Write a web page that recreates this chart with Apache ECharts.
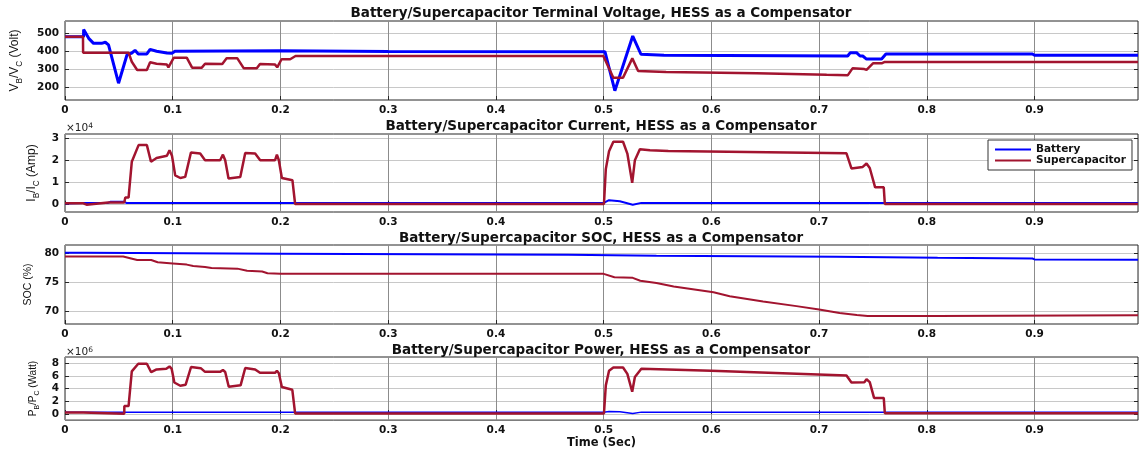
<!DOCTYPE html>
<html>
<head>
<meta charset="utf-8">
<script src="https://cdn.jsdelivr.net/npm/echarts@6/dist/echarts.min.js"></script>
<style>
  html, body { margin: 0; padding: 0; background: #fff; }
  #chart { width: 1140px; height: 450px; }
</style>
</head>
<body>
<div id="chart"></div>
<script>
// time axis
const timeMax = 0.996;

// battery / supercapacitor terminal voltage (V)
const vBatT = [0, 0.0172, 0.0173, 0.022, 0.0265, 0.034, 0.0374, 0.0404, 0.0497, 0.0575, 0.062, 0.065, 0.068, 0.076, 0.079, 0.085, 0.0946, 0.0993, 0.102, 0.2, 0.3, 0.5012, 0.5104, 0.527, 0.5346, 0.556, 0.7265, 0.729, 0.7347, 0.738, 0.7405, 0.744, 0.758, 0.762, 0.898, 0.9, 0.996];
const vBatV = [481, 481, 522, 472, 444, 444, 450, 435, 221, 379, 390, 405, 385, 385, 410, 400, 390, 388, 400, 403, 398, 397, 179, 485, 383, 378, 373, 392, 392, 373, 373, 356, 356, 384, 384, 377, 377];
const vCapT = [0, 0.0167, 0.0168, 0.059, 0.062, 0.067, 0.076, 0.079, 0.085, 0.0946, 0.096, 0.101, 0.113, 0.118, 0.127, 0.130, 0.146, 0.150, 0.160, 0.166, 0.178, 0.181, 0.195, 0.197, 0.201, 0.209, 0.214, 0.4997, 0.509, 0.518, 0.5266, 0.532, 0.558, 0.642, 0.707, 0.7267, 0.731, 0.742, 0.744, 0.750, 0.758, 0.761, 0.996];
const vCapV = [481, 481, 392, 392, 341, 295, 295, 338, 330, 325, 310, 364, 364, 308, 308, 330, 328, 360, 360, 304, 304, 328, 325, 310, 355, 355, 373, 373, 252, 252, 360, 289, 284, 277, 268, 266, 304, 300, 296, 332, 332, 340, 340];

// current (x10^4 A)
const iBatT = [0, 0.017, 0.04, 0.042, 0.055, 0.057, 0.5, 0.505, 0.515, 0.527, 0.535, 0.996];
const iBatV = [0.05, 0.07, 0.08, 0.13, 0.13, 0.08, 0.08, 0.2, 0.15, 0.0, 0.08, 0.08];
const iCapT = [0, 0.017, 0.02, 0.04, 0.055, 0.056, 0.059, 0.062, 0.0683, 0.076, 0.0798, 0.085, 0.0946, 0.097, 0.0993, 0.1023, 0.107, 0.1116, 0.1169, 0.1255, 0.130, 0.144, 0.1466, 0.1487, 0.1518, 0.1627, 0.1673, 0.1765, 0.1812, 0.195, 0.1967, 0.1985, 0.2013, 0.2111, 0.2136, 0.5003, 0.502, 0.505, 0.509, 0.518, 0.522, 0.5265, 0.529, 0.5336, 0.543, 0.56, 0.7254, 0.730, 0.7405, 0.744, 0.747, 0.752, 0.760, 0.761, 0.996];
const iCapV = [0.06, 0.06, 0.0, 0.1, 0.1, 0.32, 0.32, 1.93, 2.68, 2.68, 1.93, 2.1, 2.2, 2.45, 2.2, 1.32, 1.2, 1.25, 2.35, 2.3, 2.0, 2.0, 2.25, 2.0, 1.18, 1.25, 2.33, 2.3, 2.0, 2.0, 2.25, 2.0, 1.2, 1.1, 0.03, 0.03, 1.6, 2.4, 2.83, 2.83, 2.3, 0.98, 2.0, 2.49, 2.45, 2.42, 2.31, 1.63, 1.7, 1.85, 1.65, 0.78, 0.78, 0.03, 0.03];

// state of charge (%)
const socBatT = [0, 0.02, 0.021, 0.2, 0.201, 0.467, 0.468, 0.549, 0.55, 0.716, 0.717, 0.81, 0.811, 0.898, 0.9, 0.996];
const socBatV = [80.17, 80.17, 80.03, 80.0, 79.88, 79.83, 79.65, 79.63, 79.48, 79.45, 79.3, 79.28, 79.18, 79.15, 79.0, 78.95];
const socCapT = [0, 0.054, 0.067, 0.08, 0.086, 0.1, 0.113, 0.119, 0.13, 0.136, 0.16, 0.169, 0.183, 0.188, 0.2, 0.5, 0.51, 0.527, 0.534, 0.549, 0.565, 0.602, 0.617, 0.648, 0.679, 0.7, 0.719, 0.735, 0.745, 0.81, 0.996];
const socCapV = [79.5, 79.5, 78.9, 78.9, 78.5, 78.3, 78.1, 77.85, 77.7, 77.5, 77.4, 77.05, 76.9, 76.6, 76.5, 76.5, 75.9, 75.8, 75.3, 74.9, 74.3, 73.3, 72.6, 71.7, 70.9, 70.3, 69.7, 69.35, 69.2, 69.2, 69.3];

// power (x10^6 W)
const pBatT = [0, 0.017, 0.5, 0.505, 0.515, 0.527, 0.535, 0.996];
const pBatV = [0.3, 0.3, 0.3, 0.4, 0.35, 0.1, 0.3, 0.3];
const pCapT = [0, 0.017, 0.0171, 0.055, 0.0551, 0.059, 0.062, 0.068, 0.076, 0.08, 0.085, 0.094, 0.097, 0.099, 0.1015, 0.107, 0.112, 0.117, 0.126, 0.13, 0.144, 0.1466, 0.1487, 0.152, 0.163, 0.1673, 0.1765, 0.181, 0.195, 0.1967, 0.1985, 0.2013, 0.211, 0.2136, 0.5003, 0.502, 0.505, 0.509, 0.518, 0.522, 0.5265, 0.529, 0.535, 0.6, 0.7254, 0.730, 0.742, 0.744, 0.747, 0.751, 0.760, 0.761, 0.996];
const pCapV = [0.26, 0.26, 0.05, 0.05, 1.26, 1.26, 6.7, 7.9, 7.9, 6.56, 7.0, 7.1, 7.47, 7.1, 4.95, 4.44, 4.6, 7.38, 7.2, 6.62, 6.62, 6.9, 6.6, 4.29, 4.5, 7.23, 7.0, 6.47, 6.47, 6.8, 6.4, 4.24, 3.8, 0.1, 0.1, 4.5, 6.8, 7.3, 7.3, 6.3, 3.5, 5.8, 7.1, 6.8, 6.06, 4.95, 5.0, 5.45, 5.0, 2.53, 2.53, 0.12, 0.12];

// y tick labels
const vTicks = [200, 300, 400, 500];
const iTicks = [0, 1, 2, 3];
const socTicks = [70, 75, 80];
const pTicks = [0, 2, 4, 6, 8];

const titles = [
  "Battery/Supercapacitor Terminal Voltage, HESS as a Compensator",
  "Battery/Supercapacitor Current, HESS as a Compensator",
  "Battery/Supercapacitor SOC, HESS as a Compensator",
  "Battery/Supercapacitor Power, HESS as a Compensator"
];

const BLUE = "#0000ff";
const RED = "#a2142f";
const FONT = "Liberation Sans, Arial, sans-serif";
const WIDE = "DejaVu Sans, Verdana, sans-serif";

const pairs = (t, v) => t.map((x, i) => [x, v[i]]);

// panel layout
const panels = [
  { top: 21, height: 79, min: 127, max: 569, ticks: vTicks, gap: 41, fs: 12, name: "{a|V}{b|B}{a|/V}{b|C}{a| (Volt)}" },
  { top: 134, height: 78, min: -0.33, max: 3.18, ticks: iTicks, gap: 22, fs: 12, name: "{a|I}{b|B}{a|/I}{b|C}{a| (Amp)}" },
  { top: 245, height: 79, min: 67.8, max: 81.5, ticks: socTicks, gap: 25, fs: 10.5, name: "{a|SOC (%)}" },
  { top: 357, height: 65, min: -0.95, max: 8.95, ticks: pTicks, gap: 23, fs: 10, name: "{a|P}{b|B}{a|/P}{b|C}{a| (Watt)}" }
];

const chart = echarts.init(document.getElementById("chart"), null, { renderer: "canvas" });

const grid = panels.map(p => ({
  left: 65, right: 2, top: p.top, height: p.height,
  show: true, borderColor: "#262626", borderWidth: 1, backgroundColor: "#fff"
}));

const xAxis = panels.map((p, i) => ({
  type: "value", gridIndex: i, min: 0, max: timeMax, interval: 0.1,
  axisLine: { show: false },
  axisTick: { show: true, inside: true, length: 4, lineStyle: { color: "#262626" } },
  axisLabel: {
    showMaxLabel: false, margin: 5, color: "#111", fontWeight: "bold", fontSize: 10.5, fontFamily: WIDE,
    formatter: v => (v === 0 ? "0" : v.toFixed(1))
  },
  splitLine: { show: true, lineStyle: { color: "#8c8c8c", width: 1 } },
  name: i === 3 ? "Time (Sec)" : "",
  nameLocation: "middle", nameGap: 16,
  nameTextStyle: { color: "#111", fontWeight: "bold", fontSize: 11.5, fontFamily: WIDE }
}));

const yAxis = [];
panels.forEach((p, i) => {
  yAxis.push({
    type: "value", gridIndex: i, min: p.min, max: p.max,
    axisLine: { show: false },
    axisTick: { show: true, inside: true, length: 4, customValues: p.ticks, lineStyle: { color: "#262626" } },
    axisLabel: { customValues: p.ticks, margin: 6, color: "#111", fontWeight: "bold", fontSize: 10.5, fontFamily: WIDE },
    splitLine: { show: true, lineStyle: { color: "#c8c8c8", width: 1 } },
    name: p.name, nameLocation: "middle", nameRotate: 90, nameGap: p.gap,
    nameTextStyle: {
      rich: {
        a: { fontSize: p.fs, fontFamily: FONT, color: "#111", lineHeight: p.fs * 1.5 },
        b: { fontSize: p.fs * 0.68, fontFamily: FONT, color: "#111", lineHeight: p.fs * 0.75, verticalAlign: "bottom" }
      }
    }
  });
});
// mirrored tick marks on the right edge
panels.forEach((p, i) => {
  yAxis.push({
    type: "value", gridIndex: i, min: p.min, max: p.max, position: "right",
    axisLine: { show: false },
    axisTick: { show: true, inside: true, length: 4, customValues: p.ticks, lineStyle: { color: "#262626" } },
    axisLabel: { show: false },
    splitLine: { show: false }
  });
});

const mk = (name, i, data, color, width) => ({
  name, type: "line", xAxisIndex: i, yAxisIndex: i, data,
  symbol: "none", animation: false, silent: true,
  lineStyle: { color, width }, itemStyle: { color }
});

const series = [
  mk("Battery", 0, pairs(vBatT, vBatV), BLUE, 3),
  mk("Supercapacitor", 0, pairs(vCapT, vCapV), RED, 2.5),
  mk("Battery", 1, pairs(iBatT, iBatV), BLUE, 2),
  mk("Supercapacitor", 1, pairs(iCapT, iCapV), RED, 2.5),
  mk("Battery", 2, pairs(socBatT, socBatV), BLUE, 2),
  mk("Supercapacitor", 2, pairs(socCapT, socCapV), RED, 2),
  mk("Battery", 3, pairs(pBatT, pBatV), BLUE, 1.5),
  mk("Supercapacitor", 3, pairs(pCapT, pCapV), RED, 2.5)
];

const titleY = [13, 126, 238, 350];
const graphic = titles.map((t, i) => ({
  type: "text", x: 601, y: titleY[i], z: 100,
  style: { text: t, align: "center", verticalAlign: "middle", fill: "#111", font: "bold 13.5px " + WIDE }
}));
// exponent labels
[[128, "4"], [352, "6"]].forEach(([y, e]) => {
  graphic.push({
    type: "text", x: 66, y: y, z: 100,
    style: {
      text: "×10{s|" + e + "}", verticalAlign: "middle", fill: "#222", font: "10.5px " + WIDE,
      rich: { s: { fontSize: 7.5, fontFamily: WIDE, verticalAlign: "top", fill: "#222" } }
    }
  });
});

chart.setOption({
  backgroundColor: "#fff",
  animation: false,
  grid, xAxis, yAxis, series, graphic,
  legend: {
    data: ["Battery", "Supercapacitor"],
    orient: "vertical", left: 988, top: 140,
    icon: "rect", itemWidth: 36, itemHeight: 2, itemGap: 0,
    padding: [4, 6, 4, 7],
    backgroundColor: "#fff", borderColor: "#333", borderWidth: 1,
    selectedMode: false,
    textStyle: { color: "#111", fontWeight: "bold", fontSize: 10.5, fontFamily: WIDE, lineHeight: 10 }
  }
});
</script>
</body>
</html>
